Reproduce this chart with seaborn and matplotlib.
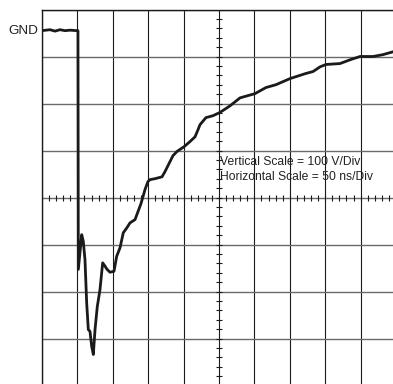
import numpy as np
import pandas as pd
import matplotlib
matplotlib.use("Agg")
import matplotlib.pyplot as plt
import seaborn as sns

sns.set_style("white")
plt.rcParams["font.family"] = ["Liberation Sans", "DejaVu Sans"]

# waveform: time in ns (50 ns/div), voltage in V relative to GND (100 V/div)
time_ns = [0, 11.3, 18.4, 25.4, 32.5, 39.5, 49.4, 50.8, 51.3, 56.1, 58.3, 60.7,
           63.1, 65.4, 67.8, 70.2, 72.5, 74.9, 78.1, 81.9, 85.7, 89.0, 91.4,
           96.0, 101.7, 105.5, 110.2, 114.8, 119.6, 124.3, 131.4, 135.6, 139.8,
           142.7, 145.5, 149.7, 152.5, 159.6, 169.5, 173.7, 178.0, 185.0, 190.7,
           200.6, 209.0, 216.1, 220.3, 223.2, 231.6, 241.5, 251.4, 265.5, 279.7,
           300.8, 316.4, 330.5, 350.3, 372.9, 382.8, 392.7, 401.1, 420.9, 435.1,
           449.2, 467.5, 481.7, 495.8, 500.0]
volts = [0, 2, -1, 2, 0, 1, 0, 0, -508, -434, -448, -487,
         -579, -636, -640, -672, -689, -636, -587, -551, -494, -501, -507,
         -514, -512, -480, -462, -430, -420, -409, -402, -385, -368,
         -353, -338, -321, -317, -315, -311, -300, -287, -266, -257,
         -247, -236, -226, -211, -200, -185, -181, -174, -160, -143,
         -134, -121, -115, -102, -91, -87, -77, -72, -70, -62,
         -55, -55, -51, -45, -43]

x_min, x_max, x_div = 0, 500, 50
y_top, y_div, n_ydiv = 45, 100, 8
y_bot = y_top - y_div * n_ydiv
x_mid = (x_min + x_max) / 2
y_mid = (y_top + y_bot) / 2

df = pd.DataFrame({"t": time_ns, "v": volts})

fig = plt.figure(figsize=(3.93, 3.84), dpi=100)
ax = fig.add_axes([42 / 393, 1 - 385.5 / 384, 354 / 393, 376 / 384])

# graticule
for xv in np.arange(x_min, x_max + 1, x_div):
    ax.axvline(xv, color="#1a1a1a", lw=0.8, zorder=1)
for yv in np.arange(y_bot, y_top + 1, y_div):
    ax.axhline(yv, color="#6a6a6a", lw=1.0, zorder=1)

# center cross with minor ticks
xt = np.arange(x_min, x_max + 1, x_div / 5)
yt = np.arange(y_bot, y_top + 1, y_div / 5)
ax.plot(xt, np.full_like(xt, y_mid, dtype=float), ls="none", marker="|",
        ms=4, mew=0.8, color="#1a1a1a", zorder=2)
ax.plot(np.full_like(yt, x_mid, dtype=float), yt, ls="none", marker="_",
        ms=5, mew=0.8, color="#1a1a1a", zorder=2)

sns.lineplot(data=df, x="t", y="v", sort=False, estimator=None, ax=ax,
             color="#1a1a1a", lw=2.0, zorder=3)

ax.set_xlim(x_min, x_max)
ax.set_ylim(y_bot, y_top)
ax.set_xticks([])
ax.set_yticks([])
ax.set_xlabel("")
ax.set_ylabel("")
for side in ["left", "top"]:
    ax.spines[side].set_color("#1a1a1a")
    ax.spines[side].set_linewidth(1.0)
for side in ["right", "bottom"]:
    ax.spines[side].set_visible(False)

ax.annotate("GND", xy=(0, 0), xycoords=("axes fraction", "data"),
            xytext=(-4, 0), textcoords="offset pixels",
            ha="right", va="center", fontsize=9.7, color="#222222")
ax.text(x_mid + 1.5, -285, "Vertical Scale = 100 V/Div", fontsize=8.7,
        color="#222222", va="baseline", ha="left")
ax.text(x_mid + 1.5, -318, "Horizontal Scale = 50 ns/Div", fontsize=8.7,
        color="#222222", va="baseline", ha="left")

fig.savefig("out.png", dpi=100)
